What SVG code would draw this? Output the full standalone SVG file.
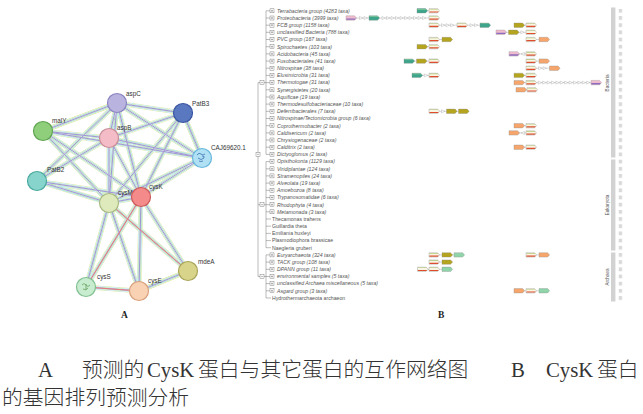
<svg xmlns="http://www.w3.org/2000/svg" xmlns:xlink="http://www.w3.org/1999/xlink" width="643" height="414" viewBox="0 0 643 414">
<style>
.tx{font-family:"Liberation Sans",Arial,sans-serif;font-size:5.2px;font-style:italic;fill:#555}
.tn{font-style:normal}
.nl{font-family:"Liberation Sans",Arial,sans-serif;font-size:6.3px;fill:#333}
.tl{fill:none;stroke:#6a6a6a;stroke-width:0.45}
.ln{fill:none;stroke:#9a9a9a;stroke-width:0.4}
.gs{fill:none;stroke:#8a8a8a;stroke-width:0.35}
.nd{stroke-width:1.2}
.cap{font-family:"Liberation Serif","Noto Sans CJK SC",serif;font-size:20.8px;fill:#333}
.cj{font-family:"Noto Sans CJK SC",sans-serif;font-weight:300}
.pl{font-family:"Liberation Serif",serif;font-size:9.5px;font-weight:bold;fill:#222}
.sb{fill:#d2d2d2}
.sl{font-family:"Liberation Sans",Arial,sans-serif;font-size:4.6px;fill:#555}
</style>
<defs>
<path id="gsh" d="M0,-2.2H8.6L10.6,0L8.6,2.2H0Z"/>
<g id="gk"><use href="#gsh" fill="#f8f5e2"/><path d="M0.4,-1.8H8.8L9.3,-1.2H0.4Z" fill="#b9cf7a"/><path d="M0.4,0.6H9.9L8.9,1.8H0.4Z" fill="#e14c2c"/><use href="#gsh" class="gs"/></g>
<g id="gt"><use href="#gsh" fill="#3da58b"/><path d="M0.4,-1.8H8.8L9.3,-1.1H0.4Z" fill="#86d29e"/><use href="#gsh" class="gs"/></g>
<g id="go"><use href="#gsh" fill="#b4a41e"/><use href="#gsh" class="gs"/></g>
<g id="gr"><use href="#gsh" fill="#f6a66c"/><use href="#gsh" class="gs"/></g>
<g id="gp"><use href="#gsh" fill="#f2bccf"/><path d="M0.4,0.4H9.9L8.9,1.8H0.4Z" fill="#8a6cc0"/><use href="#gsh" class="gs"/></g>
<g id="gm"><use href="#gsh" fill="#90d4aa"/><use href="#gsh" class="gs"/></g>
<path id="ar" d="M0,-1.5L3.4,0L0,1.5Z" fill="#fff" stroke="#999" stroke-width="0.35"/>
<path id="al" d="M3.4,-1.5L0,0L3.4,1.5Z" fill="#fff" stroke="#999" stroke-width="0.35"/>
<g id="pb"><rect x="0" y="-2" width="4" height="4" fill="#fff" stroke="#666" stroke-width="0.4"/><path d="M1,0H3M2,-1V1" stroke="#555" stroke-width="0.4"/></g>
<g id="mb"><rect x="0" y="-2" width="4" height="4" fill="#fff" stroke="#666" stroke-width="0.4"/><path d="M1,0H3" stroke="#555" stroke-width="0.4"/></g>
<path id="E" fill="none" d="M117,103L183,113M117,103L43,131M117,103L109,138M117,103L202,158M117,103L37,181M117,103L109,203M117,103L141,197M43,131L109,138M43,131L202,158M43,131L109,203M43,131L141,197M183,113L109,138M183,113L202,158M183,113L109,203M183,113L141,197M109,138L202,158M109,138L37,181M109,138L109,203M109,138L141,197M202,158L141,197M202,158L109,203M37,181L109,203M37,181L141,197M109,203L141,197M109,203L188,271M109,203L86,287M109,203L139,291M141,197L188,271M141,197L86,287M141,197L139,291M86,287L139,291M139,291L188,271"/>
<path id="R" fill="none" d="M141,197L86,287M86,287L139,291M109,203L188,271"/>
<pattern id="sq" x="618.5" y="8.9" width="5" height="7.18" patternUnits="userSpaceOnUse"><rect x="0" y="0" width="3.8" height="3.8" fill="#d9d9d9"/></pattern>
</defs>
<rect width="643" height="414" fill="#fff"/>

<!-- Panel A: network -->
<g id="connectors" opacity="0.85">
<use href="#E" stroke="#d6e26a" stroke-width="4.6"/>
<use href="#E" stroke="#ffffff" stroke-width="4.0"/>
<use href="#E" stroke="#86d4ea" stroke-width="3.4"/>
<use href="#E" stroke="#ffffff" stroke-width="2.8"/>
<use href="#E" stroke="#6cc26c" stroke-width="2.2"/>
<use href="#E" stroke="#ffffff" stroke-width="1.6"/>
<use href="#E" stroke="#7a82d2" stroke-width="1.0"/>
<use href="#E" stroke="#b48cc8" stroke-width="0.35"/>
<use href="#R" stroke="#e86464" stroke-width="1.0"/>
</g>
<g id="node-aspC"><circle class="nd" cx="117" cy="103" r="9.5" fill="#b9b3e0" stroke="#8a84c0"/><text class="nl" x="126" y="96">aspC</text></g>
<g id="node-PatB3"><circle class="nd" cx="183" cy="113" r="9.5" fill="#5a78c0" stroke="#3a55a0"/><text class="nl" x="192" y="106">PatB3</text></g>
<g id="node-malY"><circle class="nd" cx="43" cy="131" r="9.5" fill="#8fcf7c" stroke="#5fa450"/><text class="nl" x="52" y="123">malY</text></g>
<g id="node-aspB"><circle class="nd" cx="109" cy="138" r="9.5" fill="#f3bcc6" stroke="#c98e98"/><text class="nl" x="117" y="130">aspB</text></g>
<g id="node-CAJ69620.1"><circle class="nd" cx="202" cy="158" r="9.5" fill="#b0e0f4" stroke="#68b8dc"/><path d="M197,155q2,-3 4,-1q2,2 4,0M198,158q3,3 6,0q1,-2 -2,-2M199,161q2,1 4,0" fill="none" stroke="#3a70b0" stroke-width="0.8"/><text class="nl" x="211" y="150">CAJ69620.1</text></g>
<g id="node-PatB2"><circle class="nd" cx="37" cy="181" r="9.5" fill="#86d4cc" stroke="#4aa89e"/><text class="nl" x="47" y="172">PatB2</text></g>
<g id="node-cysM"><circle class="nd" cx="109" cy="203" r="9.5" fill="#dfeabc" stroke="#a9bb80"/><text class="nl" x="118" y="195">cysM</text></g>
<g id="node-cysK"><circle class="nd" cx="141" cy="197" r="9.5" fill="#f48a8a" stroke="#cc5a5a"/><text class="nl" x="149" y="189">cysK</text></g>
<g id="node-mdeA"><circle class="nd" cx="188" cy="271" r="9.5" fill="#d8d48a" stroke="#a8a45a"/><text class="nl" x="198" y="264">mdeA</text></g>
<g id="node-cysS"><circle class="nd" cx="86" cy="287" r="9.5" fill="#c8ecd0" stroke="#80c090"/><path d="M82,285q2,-3 4,0q2,3 4,0M83,289q3,2 5,-1M86,284v6" fill="none" stroke="#5a9a50" stroke-width="0.7"/><text class="nl" x="97" y="279">cysS</text></g>
<g id="node-cysE"><circle class="nd" cx="139" cy="291" r="9.5" fill="#f9d2b4" stroke="#d8a07c"/><text class="nl" x="148" y="283">cysE</text></g>
<text class="pl" x="121" y="318">A</text>

<!-- Panel B: tree -->
<g id="tree-lines" class="tl">
<path d="M258,82.6V276.5M258,82.6H260M258,204.7H260M258,276.5H260M264,82.6H266M264,204.7H266M264,276.5H266"/>
<path d="M266,10.8V154.4M266,10.8H270M266,18H270M266,25.2H270M266,32.3H270M266,39.5H270M266,46.7H270M266,53.9H270M266,61.1H270M266,68.2H270M266,75.4H270M266,82.6H270M266,89.8H270M266,97H270M266,104.1H270M266,111.3H270M266,118.5H270M266,125.7H270M266,132.9H270M266,140H270M266,147.2H270M266,154.4H270"/>
<path d="M266,161.6V247.7M266,161.6H270M266,168.8H270M266,175.9H270M266,183.1H270M266,190.3H270M266,197.5H270M266,204.7H270M266,211.8H270M266,219H271M266,226.2H271M266,233.4H271M266,240.6H271M266,247.7H271"/>
<path d="M266,254.9V298M266,254.9H270M266,262.1H270M266,269.3H270M266,276.5H270M266,283.6H270M266,290.8H270M266,298H271"/>
</g>
<g id="tree-nodes">
<use href="#mb" x="256" y="154.4"/>
<use href="#mb" x="260" y="82.6"/>
<use href="#mb" x="260" y="204.7"/>
<use href="#mb" x="260" y="276.5"/>
</g>
<g id="rows">
<g id="r0"><use href="#pb" x="270" y="10.8"/><text class="tx" x="277" y="12.6">Terrabacteria group (4283 taxa)</text><path class="ln" d="M417,10.8H439"/><use href="#gt" x="417" y="10.8"/><use href="#gk" x="429" y="10.8"/></g>
<g id="r1"><use href="#pb" x="270" y="18"/><text class="tx" x="277" y="19.8">Proteobacteria (3999 taxa)</text><path class="ln" d="M346,18H439"/><use href="#gp" x="346" y="18"/><use href="#ar" x="359.5" y="18"/><use href="#ar" x="364" y="18"/><use href="#gt" x="369" y="18"/><use href="#ar" x="382" y="18"/><use href="#ar" x="386.5" y="18"/><use href="#ar" x="391" y="18"/><use href="#ar" x="395.5" y="18"/><use href="#ar" x="400" y="18"/><use href="#ar" x="404.5" y="18"/><use href="#ar" x="409" y="18"/><use href="#ar" x="413.5" y="18"/><use href="#ar" x="418" y="18"/><use href="#ar" x="422.5" y="18"/><use href="#gk" x="429" y="18"/></g>
<g id="r2"><use href="#pb" x="270" y="25.2"/><text class="tx" x="277" y="27">FCB group (1158 taxa)</text><path class="ln" d="M429,25.2H490M514,25.2H536"/><use href="#gk" x="429" y="25.2"/><use href="#ar" x="441.5" y="25.2"/><use href="#ar" x="446" y="25.2"/><use href="#ar" x="450.5" y="25.2"/><use href="#gk" x="457" y="25.2"/><use href="#ar" x="470" y="25.2"/><use href="#ar" x="474.5" y="25.2"/><use href="#gt" x="480" y="25.2"/><use href="#go" x="514" y="25.2"/><use href="#gk" x="526" y="25.2"/></g>
<g id="r3"><use href="#pb" x="270" y="32.3"/><text class="tx" x="277" y="34.1">unclassified Bacteria (788 taxa)</text><path class="ln" d="M496,32.3H536"/><use href="#gp" x="496" y="32.3"/><use href="#go" x="508.5" y="32.3"/><use href="#ar" x="520.8" y="32.3"/><use href="#gk" x="526" y="32.3"/></g>
<g id="r4"><use href="#pb" x="270" y="39.5"/><text class="tx" x="277" y="41.3">PVC group (167 taxa)</text><path class="ln" d="M429,39.5H452M526,39.5H549"/><use href="#gk" x="429" y="39.5"/><use href="#go" x="442" y="39.5"/><use href="#gk" x="526" y="39.5"/><use href="#gr" x="539" y="39.5"/></g>
<g id="r5"><use href="#pb" x="270" y="46.7"/><text class="tx" x="277" y="48.5">Spirochaetes (103 taxa)</text><path class="ln" d="M417,46.7H439"/><use href="#go" x="417" y="46.7"/><use href="#gk" x="429" y="46.7"/></g>
<g id="r6"><use href="#pb" x="270" y="53.9"/><text class="tx" x="277" y="55.7">Acidobacteria (45 taxa)</text><path class="ln" d="M509,53.9H536"/><use href="#gp" x="509" y="53.9"/><use href="#al" x="521" y="53.9"/><use href="#gk" x="526" y="53.9"/></g>
<g id="r7"><use href="#pb" x="270" y="61.1"/><text class="tx" x="277" y="62.9">Fusobacteriales (41 taxa)</text><path class="ln" d="M404,61.1H439M526,61.1H549"/><use href="#gt" x="404" y="61.1"/><use href="#go" x="416.5" y="61.1"/><use href="#gk" x="429" y="61.1"/><use href="#gk" x="526" y="61.1"/><use href="#gr" x="539" y="61.1"/></g>
<g id="r8"><use href="#pb" x="270" y="68.2"/><text class="tx" x="277" y="70">Nitrospirae (38 taxa)</text><path class="ln" d="M526,68.2H559"/><use href="#gk" x="526" y="68.2"/><use href="#ar" x="538.5" y="68.2"/><use href="#ar" x="543" y="68.2"/><use href="#gr" x="549.5" y="68.2"/></g>
<g id="r9"><use href="#pb" x="270" y="75.4"/><text class="tx" x="277" y="77.2">Elusimicrobia (31 taxa)</text><path class="ln" d="M412,75.4H439M514,75.4H536"/><use href="#gt" x="412" y="75.4"/><use href="#ar" x="424.3" y="75.4"/><use href="#gk" x="429" y="75.4"/><use href="#go" x="514" y="75.4"/><use href="#gk" x="526" y="75.4"/></g>
<g id="r10"><use href="#pb" x="270" y="82.6"/><text class="tx" x="277" y="84.4">Thermotogae (31 taxa)</text><path class="ln" d="M514,82.6H601"/><use href="#gr" x="514" y="82.6"/><use href="#gk" x="526" y="82.6"/><use href="#ar" x="538.2" y="82.6"/><use href="#ar" x="542.6" y="82.6"/><use href="#ar" x="547" y="82.6"/><use href="#ar" x="551.4" y="82.6"/><use href="#ar" x="555.8" y="82.6"/><use href="#ar" x="560.2" y="82.6"/><use href="#ar" x="564.6" y="82.6"/><use href="#ar" x="569" y="82.6"/><use href="#ar" x="573.4" y="82.6"/><use href="#ar" x="577.8" y="82.6"/><use href="#ar" x="582.2" y="82.6"/><use href="#ar" x="586.6" y="82.6"/><use href="#gp" x="591" y="82.6"/></g>
<g id="r11"><use href="#pb" x="270" y="89.8"/><text class="tx" x="277" y="91.6">Synergistetes (20 taxa)</text><path class="ln" d="M516,89.8H537"/><use href="#gr" x="516" y="89.8"/><use href="#gk" x="527" y="89.8"/></g>
<g id="r12"><use href="#pb" x="270" y="97"/><text class="tx" x="277" y="98.8">Aquificae (19 taxa)</text></g>
<g id="r13"><use href="#pb" x="270" y="104.1"/><text class="tx" x="277" y="105.9">Thermodesulfobacteriaceae (10 taxa)</text></g>
<g id="r14"><use href="#pb" x="270" y="111.3"/><text class="tx" x="277" y="113.1">Deferribacterales (7 taxa)</text><path class="ln" d="M429,111.3H469"/><use href="#gk" x="429" y="111.3"/><use href="#ar" x="441.5" y="111.3"/><use href="#go" x="446.5" y="111.3"/><use href="#go" x="458.5" y="111.3"/></g>
<g id="r15"><use href="#pb" x="270" y="118.5"/><text class="tx" x="277" y="120.3">Nitrospinae/Tectomicrobia group (6 taxa)</text></g>
<g id="r16"><use href="#pb" x="270" y="125.7"/><text class="tx" x="277" y="127.5">Coprothermobacter (2 taxa)</text><path class="ln" d="M514,125.7H536"/><use href="#gr" x="514" y="125.7"/><use href="#gk" x="526" y="125.7"/></g>
<g id="r17"><use href="#pb" x="270" y="132.9"/><text class="tx" x="277" y="134.7">Caldisericum (2 taxa)</text><path class="ln" d="M509,132.9H536"/><use href="#gr" x="509" y="132.9"/><use href="#al" x="521" y="132.9"/><use href="#gk" x="526" y="132.9"/></g>
<g id="r18"><use href="#pb" x="270" y="140"/><text class="tx" x="277" y="141.8">Chrysiogenaceae (2 taxa)</text></g>
<g id="r19"><use href="#pb" x="270" y="147.2"/><text class="tx" x="277" y="149">Calditrix (2 taxa)</text><path class="ln" d="M514,147.2H536"/><use href="#gr" x="514" y="147.2"/><use href="#gk" x="526" y="147.2"/></g>
<g id="r20"><use href="#pb" x="270" y="154.4"/><text class="tx" x="277" y="156.2">Dictyoglomus (2 taxa)</text></g>
<g id="r21"><use href="#pb" x="270" y="161.6"/><text class="tx" x="277" y="163.4">Opisthokonta (1129 taxa)</text></g>
<g id="r22"><use href="#pb" x="270" y="168.8"/><text class="tx" x="277" y="170.6">Viridiplantae (124 taxa)</text></g>
<g id="r23"><use href="#pb" x="270" y="175.9"/><text class="tx" x="277" y="177.7">Stramenopiles (24 taxa)</text></g>
<g id="r24"><use href="#pb" x="270" y="183.1"/><text class="tx" x="277" y="184.9">Alveolata (19 taxa)</text></g>
<g id="r25"><use href="#pb" x="270" y="190.3"/><text class="tx" x="277" y="192.1">Amoebozoa (8 taxa)</text></g>
<g id="r26"><use href="#pb" x="270" y="197.5"/><text class="tx" x="277" y="199.3">Trypanosomatidae (6 taxa)</text></g>
<g id="r27"><use href="#pb" x="270" y="204.7"/><text class="tx" x="277" y="206.5">Rhodophyta (4 taxa)</text></g>
<g id="r28"><use href="#pb" x="270" y="211.8"/><text class="tx" x="277" y="213.6">Metamonada (3 taxa)</text></g>
<g id="r29"><text class="tx tn" x="272" y="220.8">Thecamonas trahens</text></g>
<g id="r30"><text class="tx tn" x="272" y="228">Guillardia theta</text></g>
<g id="r31"><text class="tx tn" x="272" y="235.2">Emiliania huxleyi</text></g>
<g id="r32"><text class="tx tn" x="272" y="242.4">Plasmodiophora brassicae</text></g>
<g id="r33"><text class="tx tn" x="272" y="249.5">Naegleria gruberi</text></g>
<g id="r34"><use href="#pb" x="270" y="254.9"/><text class="tx" x="277" y="256.7">Euryarchaeota (324 taxa)</text><path class="ln" d="M429,254.9H464M526,254.9H549"/><use href="#gk" x="429" y="254.9"/><use href="#go" x="442" y="254.9"/><use href="#gm" x="454" y="254.9"/><use href="#gk" x="526" y="254.9"/><use href="#gr" x="539" y="254.9"/></g>
<g id="r35"><use href="#pb" x="270" y="262.1"/><text class="tx" x="277" y="263.9">TACK group (108 taxa)</text><path class="ln" d="M429,262.1H452"/><use href="#gk" x="429" y="262.1"/><use href="#go" x="442" y="262.1"/></g>
<g id="r36"><use href="#pb" x="270" y="269.3"/><text class="tx" x="277" y="271.1">DPANN group (11 taxa)</text><path class="ln" d="M417.5,269.3H452"/><use href="#gk" x="417.5" y="269.3"/><use href="#gk" x="429" y="269.3"/><use href="#gm" x="442" y="269.3"/></g>
<g id="r37"><use href="#pb" x="270" y="276.5"/><text class="tx" x="277" y="278.3">environmental samples (5 taxa)</text></g>
<g id="r38"><use href="#pb" x="270" y="283.6"/><text class="tx" x="277" y="285.4">unclassified Archaea miscellaneous (5 taxa)</text></g>
<g id="r39"><use href="#pb" x="270" y="290.8"/><text class="tx" x="277" y="292.6">Asgard group (3 taxa)</text><path class="ln" d="M514,290.8H549"/><use href="#gr" x="514" y="290.8"/><use href="#gk" x="526" y="290.8"/><use href="#gm" x="539" y="290.8"/></g>
<g id="r40"><text class="tx tn" x="272" y="299.8">Hydrothermarchaeota archaeon</text></g>
</g>
<g id="sidebar">
<rect class="sb" x="611" y="7.5" width="4.4" height="150"/>
<rect class="sb" x="611" y="159.5" width="4.4" height="91"/>
<rect class="sb" x="611" y="252.5" width="4.4" height="49"/>
<text class="sl" transform="translate(609,83) rotate(-90)" text-anchor="middle">Bacteria</text>
<text class="sl" transform="translate(609,205) rotate(-90)" text-anchor="middle">Eukaryota</text>
<text class="sl" transform="translate(609,277) rotate(-90)" text-anchor="middle">Archaea</text>
<rect x="618.5" y="8.9" width="4" height="292" fill="url(#sq)"/>
</g>
<text class="pl" x="438" y="318">B</text>

<!-- Caption -->
<g id="caption" class="cap">
<text x="38" y="377">A</text>
<text class="cj" x="82" y="377">预测的</text>
<text x="147" y="377">CysK</text>
<text class="cj" x="198" y="377">蛋白与其它蛋白的互作网络图</text>
<text x="511" y="377">B</text>
<text x="546" y="377">CysK</text>
<text class="cj" x="597" y="377">蛋白</text>
<text class="cj" x="2" y="405">的基因排列预测分析</text>
</g>
</svg>
